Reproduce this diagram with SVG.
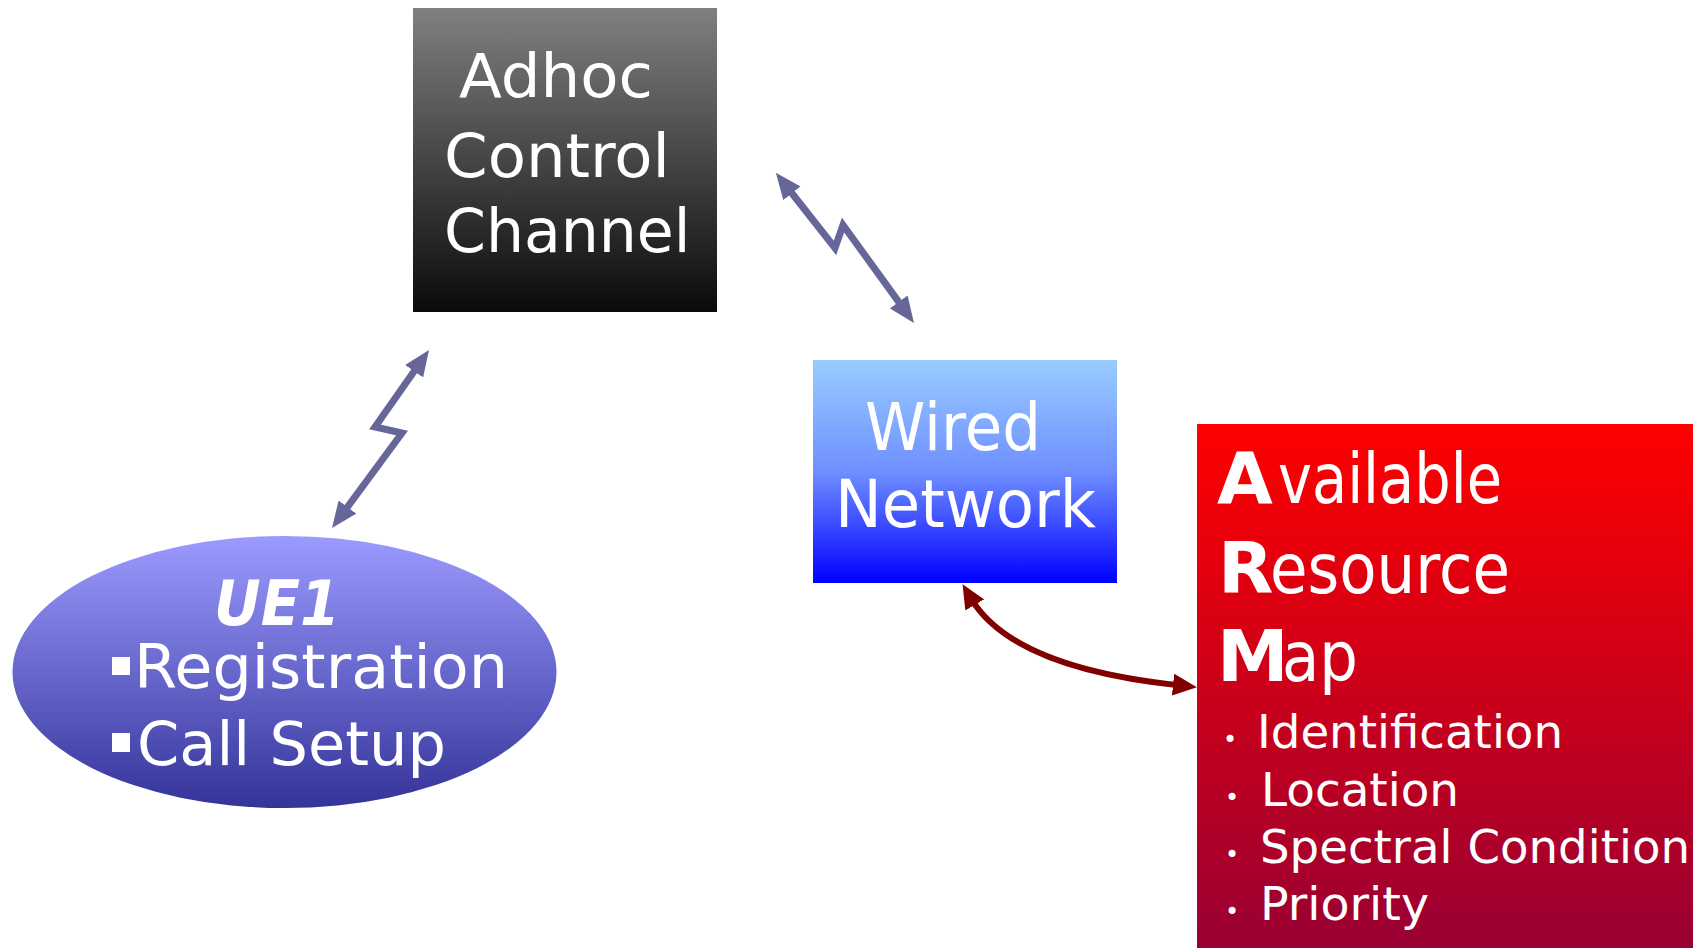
<svg xmlns="http://www.w3.org/2000/svg" width="1701" height="948" viewBox="0 0 1701 948">
<style>
  .t { font-family: "DejaVu Sans", "Liberation Sans", sans-serif; fill: #ffffff; }
  .b { font-size: 24px; }
  .li { font-size: 46px; }
  .cap { font-weight: bold; font-size: 72px; }
  .rest { font-size: 70px; }
  .conn { fill: none; stroke-linejoin: miter; }
  .blue { stroke: #666699; stroke-width: 7; }
  .red { stroke: #800000; stroke-width: 6; }
</style>
<defs>
  <linearGradient id="gGray" x1="0" y1="0" x2="0" y2="1">
    <stop offset="0" stop-color="#808080"/>
    <stop offset="1" stop-color="#0a0a0a"/>
  </linearGradient>
  <linearGradient id="gBlue" x1="0" y1="0" x2="0" y2="1">
    <stop offset="0" stop-color="#99ccff"/>
    <stop offset="0.5" stop-color="#6f8fff"/>
    <stop offset="1" stop-color="#0000ff"/>
  </linearGradient>
  <linearGradient id="gViolet" x1="0" y1="0" x2="0" y2="1">
    <stop offset="0" stop-color="#9b9bff"/>
    <stop offset="1" stop-color="#333399"/>
  </linearGradient>
  <linearGradient id="gRed" gradientUnits="userSpaceOnUse" x1="0" y1="424" x2="0" y2="948">
    <stop offset="0" stop-color="#ff0000"/>
    <stop offset="1" stop-color="#990033"/>
  </linearGradient>
  <marker id="aBlue" viewBox="0 0 26 22" refX="8" refY="11" markerWidth="26" markerHeight="22" markerUnits="userSpaceOnUse" orient="auto-start-reverse">
    <path d="M0,0 L26,11 L0,22 z" fill="#666699"/>
  </marker>
  <marker id="aRed" viewBox="0 0 24 22" refX="8" refY="11" markerWidth="24" markerHeight="22" markerUnits="userSpaceOnUse" orient="auto-start-reverse">
    <path d="M0,0 L24,11 L0,22 z" fill="#800000"/>
  </marker>
</defs>

<g id="connectors">
  <polyline class="conn blue" points="787,187 835,248 843,225 903.4,308.4" marker-start="url(#aBlue)" marker-end="url(#aBlue)"/>
  <polyline class="conn blue" points="418.7,364.7 375,427 402,433 342.7,513.5" marker-start="url(#aBlue)" marker-end="url(#aBlue)"/>
  <path class="conn red" d="M970.7,598 Q1012,668 1181,685.5" marker-start="url(#aRed)" marker-end="url(#aRed)"/>
</g>

<g id="adhoc">
  <rect x="413" y="8" width="304" height="304" fill="url(#gGray)"/>
  <text class="t" font-size="60" x="459" y="97" textLength="194" lengthAdjust="spacingAndGlyphs">Adhoc</text>
  <text class="t" font-size="60" x="444" y="177" textLength="226" lengthAdjust="spacingAndGlyphs">Control</text>
  <text class="t" font-size="60" x="444" y="252">Channel</text>
</g>

<g id="wired">
  <rect x="813" y="360" width="304" height="223" fill="url(#gBlue)"/>
  <text class="t" font-size="65" x="865" y="450" textLength="176" lengthAdjust="spacingAndGlyphs">Wired</text>
  <text class="t" font-size="65" x="835" y="527" textLength="261" lengthAdjust="spacingAndGlyphs">Network</text>
</g>

<g id="ue1">
  <ellipse cx="284.5" cy="672" rx="272" ry="136" fill="url(#gViolet)"/>
  <text class="t" font-size="62" font-style="italic" font-weight="bold" x="214" y="625" textLength="126" lengthAdjust="spacingAndGlyphs">UE1</text>
  <rect x="112" y="657" width="18" height="18" fill="#ffffff"/>
  <text class="t" font-size="60" x="134" y="688" textLength="374" lengthAdjust="spacingAndGlyphs">Registration</text>
  <rect x="112" y="733" width="18" height="19" fill="#ffffff"/>
  <text class="t" font-size="60" x="137" y="765" textLength="309" lengthAdjust="spacingAndGlyphs">Call Setup</text>
</g>

<g id="arm">
  <rect x="1197" y="424" width="496" height="524" fill="url(#gRed)"/>
  <text class="t" y="503"><tspan class="cap" x="1217">A</tspan><tspan class="rest" x="1278" textLength="224" lengthAdjust="spacingAndGlyphs">vailable</tspan></text>
  <text class="t" y="593"><tspan class="cap" x="1218">R</tspan><tspan class="rest" x="1270" textLength="240" lengthAdjust="spacingAndGlyphs">esource</tspan></text>
  <text class="t" y="681"><tspan class="cap" x="1217">M</tspan><tspan class="rest" x="1282" textLength="76" lengthAdjust="spacingAndGlyphs">ap</tspan></text>
  <text class="t" y="748"><tspan class="b" x="1223">•</tspan><tspan class="li" x="1257" textLength="306" lengthAdjust="spacingAndGlyphs">Identification</tspan></text>
  <text class="t" y="806"><tspan class="b" x="1225">•</tspan><tspan class="li" x="1261" textLength="198" lengthAdjust="spacingAndGlyphs">Location</tspan></text>
  <text class="t" y="863"><tspan class="b" x="1225">•</tspan><tspan class="li" x="1260" textLength="430" lengthAdjust="spacingAndGlyphs">Spectral Condition</tspan></text>
  <text class="t" y="920"><tspan class="b" x="1225">•</tspan><tspan class="li" x="1260" textLength="169" lengthAdjust="spacingAndGlyphs">Priority</tspan></text>
</g>
</svg>
